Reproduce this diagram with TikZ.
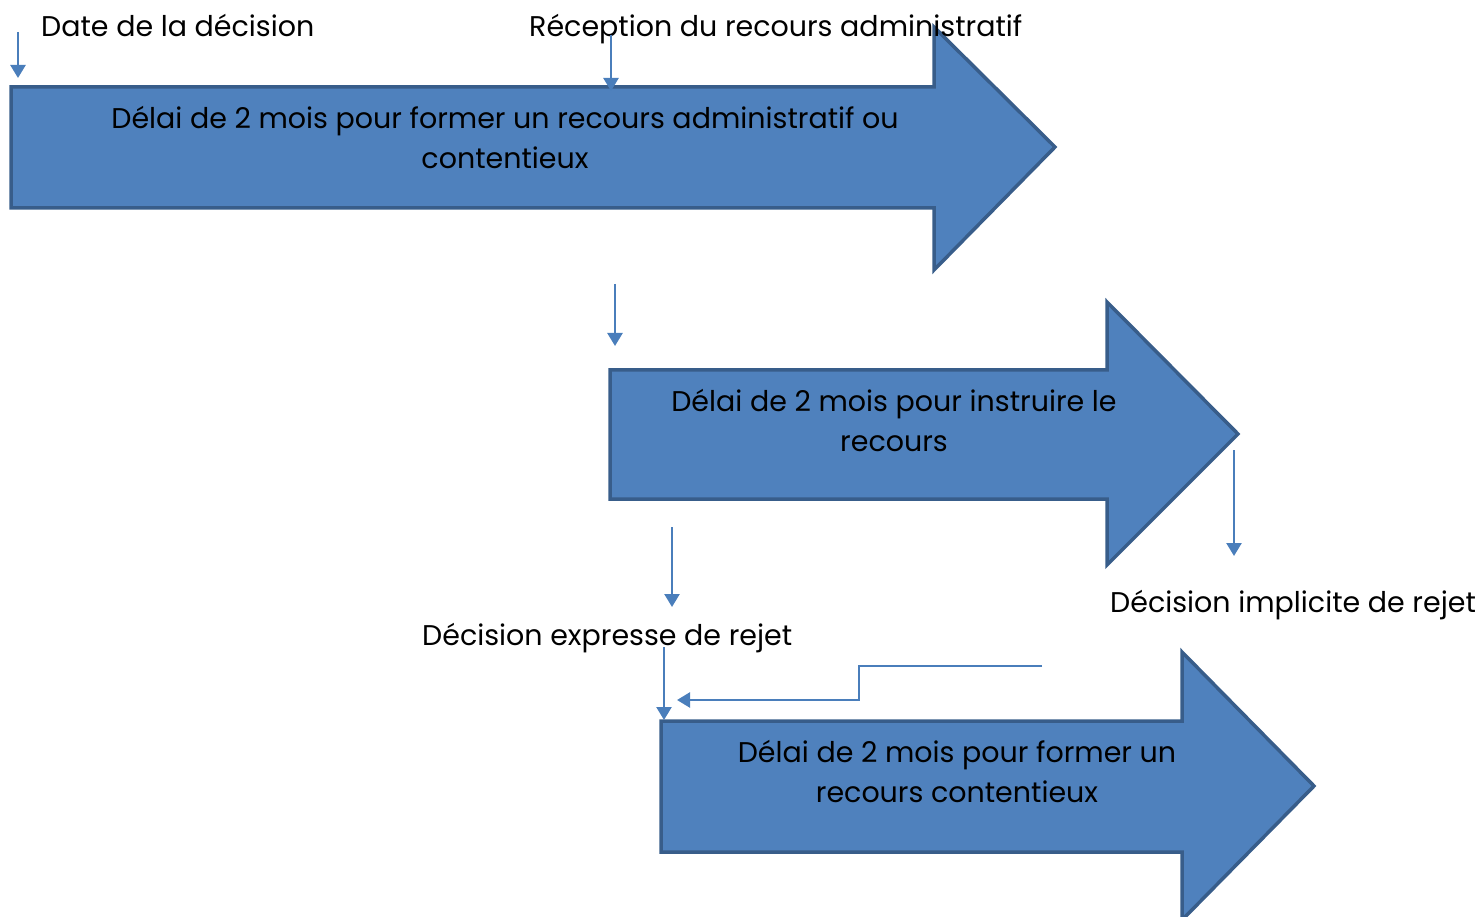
\documentclass[tikz,border=0pt]{standalone}
\usepackage{fontspec}
\setmainfont{Poppins}
\usetikzlibrary{positioning, arrows.meta}

\definecolor{boxfill}{HTML}{4F81BD}
\definecolor{boxline}{HTML}{385D8A}
\definecolor{tickcol}{HTML}{4A7EBB}

\begin{document}
\begin{tikzpicture}[x=1pt, y=-1pt, >={Triangle[width=15pt,length=13pt]},
    bigarrow/.style = {fill=boxfill, draw=boxline, line width=3.5pt, line join=miter},
    label/.style = {font=\fontsize{28.5}{40}\selectfont, inner sep=0pt, align=center},
    tick/.style = {draw=tickcol, line width=2.5pt, ->}]

    \useasboundingbox (0,0) rectangle (1484,917);

    % Arrows
    \draw [bigarrow] (11,87) -- (934,87) -- (934,27) -- (1055,147) -- (934,270)
        -- (934,208) -- (11,208) -- cycle;
    \draw [bigarrow] (610,370) -- (1107,370) -- (1107,302) -- (1238,434) -- (1107,565)
        -- (1107,499) -- (610,499) -- cycle;
    \draw [bigarrow] (661,721) -- (1182,721) -- (1182,652) -- (1314,786) -- (1182,920)
        -- (1182,852) -- (661,852) -- cycle;

    % Texts
    \node [label] (first) at (505,137) {Délai de 2 mois pour former un recours administratif ou\\contentieux};
    \node [label] (second) at (894,420) {Délai de 2 mois pour instruire le\\recours};
    \node [label] (third) at (957,771) {Délai de 2 mois pour former un\\recours contentieux};

    \node [label, anchor=base west] (date) at (41,37) {Date de la décision};
    \node [label, anchor=base west] (reception) at (529,37) {Réception du recours administratif};
    \node [label, anchor=base west] (implicit) at (1110,612) {Décision implicite de rejet};
    \node [label, anchor=base west] (express) at (422,645) {Décision expresse de rejet};

    % Ticks
    \coordinate (t1a) at (18,32);   \coordinate (t1b) at (18,78);
    \coordinate (t2a) at (611,35);  \coordinate (t2b) at (611,91);
    \coordinate (t3a) at (615,284); \coordinate (t3b) at (615,346);
    \coordinate (t4a) at (672,527); \coordinate (t4b) at (672,607);
    \coordinate (t5a) at (1234,450);\coordinate (t5b) at (1234,556);
    \coordinate (t6a) at (664,647); \coordinate (t6b) at (664,720);
    \coordinate (t7a) at (1042,666);\coordinate (t7b) at (677,700);

    \draw [tick] (t1a) -- (t1b);
    \draw [tick] (t2a) -- (t2b);
    \draw [tick] (t3a) -- (t3b);
    \draw [tick] (t4a) -- (t4b);
    \draw [tick] (t5a) -- (t5b);
    \draw [tick] (t6a) -- (t6b);
    \draw [tick] (t7a) -- (859,666) -- (859,700) -- (t7b);
\end{tikzpicture}
\end{document}
